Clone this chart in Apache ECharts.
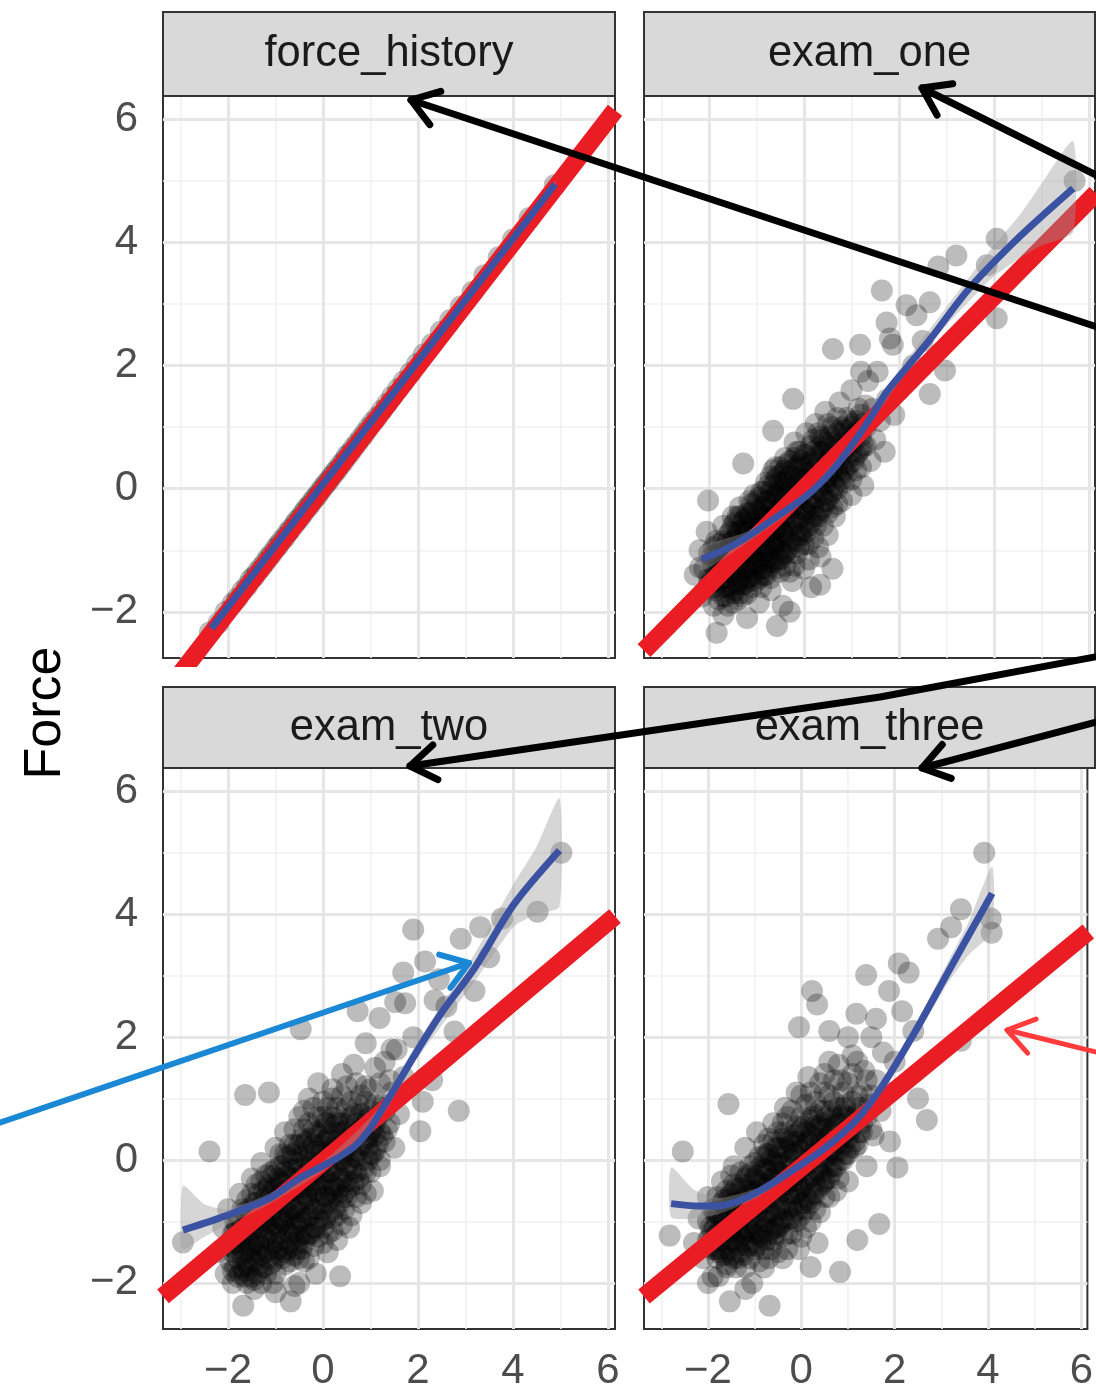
<!DOCTYPE html>
<html>
<head>
<meta charset="utf-8">
<script src="https://cdn.jsdelivr.net/npm/echarts@6/dist/echarts.min.js"></script>
<style>
html,body{margin:0;padding:0;background:#fff;}
#chart{width:1096px;height:1392px;}
</style>
</head>
<body>
<div id="chart"></div>
<script>
// ---------- DATA ----------
const panelNames = ['force_history', 'exam_one', 'exam_two', 'exam_three'];
const xTicks = [-2, 0, 2, 4, 6];
const yTicks = [-2, 0, 2, 4, 6];
const xMinor = [-3, -1, 1, 3, 5];
const yMinor = [-1, 1, 3, 5];

const forceHistoryPoints = [
[-2.38,-2.33],[-2.2,-2.18],[-2.05,-2.0],[-1.9,-1.86],[-1.8,-1.78],[-1.7,-1.66],[-1.6,-1.58],[-1.52,-1.47],[-1.45,-1.43],[-1.38,-1.35],
[-1.3,-1.28],[-1.22,-1.2],[-1.15,-1.12],[-1.08,-1.06],[-1.0,-0.97],[-0.94,-0.92],[-0.88,-0.85],[-0.8,-0.79],[-0.74,-0.71],[-0.68,-0.66],
[-0.6,-0.58],[-0.55,-0.52],[-0.48,-0.47],[-0.42,-0.4],[-0.36,-0.33],[-0.3,-0.29],[-0.24,-0.22],[-0.18,-0.16],[-0.12,-0.11],[-0.06,-0.04],
[0.0,0.02],[0.06,0.08],[0.12,0.13],[0.18,0.2],[0.24,0.26],[0.3,0.31],[0.37,0.39],[0.44,0.45],[0.5,0.53],[0.57,0.58],
[0.64,0.66],[0.72,0.74],[0.8,0.82],[0.88,0.9],[0.96,0.99],[1.05,1.08],[1.14,1.16],[1.24,1.27],[1.35,1.38],[1.46,1.5],
[1.58,1.62],[1.7,1.74],[1.84,1.88],[1.98,2.03],[2.12,2.18],[2.3,2.35],[2.48,2.55],[2.68,2.74],[2.9,2.96],[3.15,3.2],
[3.4,3.47],[3.7,3.76],[4.0,4.05],[4.35,4.4],[4.88,4.93]
];

const examOnePoints = [
[-2.3,-1.4],[-2.2,-1.0],[-2.15,-1.75],[-2.1,-1.3],[-2.05,-0.7],[-2.0,-1.55],[-1.95,-1.1],[-1.9,-1.9],[-1.85,-0.85],[-1.8,-1.4],
[-1.75,-1.15],[-1.7,-2.05],[-1.7,-0.6],[-1.65,-1.6],[-1.6,-1.0],[-1.55,-1.3],[-1.5,-0.45],[-1.5,-1.85],[-1.45,-0.8],[-1.4,-1.15],
[-1.4,-1.55],[-1.35,-0.3],[-1.3,-1.0],[-1.3,-1.75],[-1.25,-0.65],[-1.2,-1.3],[-1.2,-2.1],[-1.15,-0.4],[-1.1,-0.95],[-1.1,-1.5],
[-1.05,-0.1],[-1.0,-0.7],[-1.0,-1.2],[-0.95,-1.85],[-0.9,-0.45],[-0.9,-0.95],[-0.85,-1.4],[-0.8,0.1],[-0.8,-0.6],[-0.75,-1.1],
[-0.7,-1.65],[-0.7,-0.3],[-0.65,-0.85],[-0.6,0.35],[-0.6,-1.3],[-0.55,-0.5],[-0.5,-1.0],[-0.5,-0.05],[-0.45,-1.9],[-0.45,-0.7],
[-0.4,0.5],[-0.4,-1.25],[-0.35,-0.3],[-0.3,-0.85],[-0.3,0.2],[-0.25,-1.5],[-0.2,-0.5],[-0.2,0.75],[-0.15,-1.05],[-0.1,-0.1],
[-0.1,0.4],[-0.05,-0.7],[0.0,-1.3],[0.0,0.15],[0.05,-0.35],[0.05,0.9],[0.1,-0.9],[0.15,0.45],[0.15,-1.6],[0.2,-0.15],
[0.25,-0.6],[0.25,1.05],[0.3,0.25],[0.35,-1.1],[0.35,0.7],[0.4,-0.3],[0.45,0.05],[0.45,1.25],[0.5,-0.75],[0.55,0.5],
[0.6,-0.05],[0.6,1.0],[0.65,-0.45],[0.7,0.3],[0.75,1.4],[0.8,0.75],[0.8,-0.2],[0.85,0.1],[0.9,1.15],[0.95,0.5],
[1.0,-0.1],[1.0,1.6],[1.05,0.85],[1.1,0.3],[1.15,1.3],[1.2,0.65],[1.25,0.05],[1.3,1.0],[1.35,1.75],[1.4,0.45],
[1.45,1.3],[1.5,0.8],[1.55,1.9],[1.6,1.1],[1.7,0.6],[1.75,1.45],
[-2.19,-1.28],[-2.02,-0.19],[-1.84,-2.34],[-0.57,-2.23],[0.34,-1.56],[-1.28,0.41],[-0.65,0.94],[-0.23,1.46],[0.61,2.27],[1.18,2.34],
[1.64,3.22],[2.16,2.98],[2.65,3.03],[2.83,3.61],[3.21,3.79],[2.65,1.54],[2.97,1.92],[4.06,2.77],[4.06,4.06],[3.85,3.63],
[1.87,2.34],[1.74,2.7],[2.37,2.82],[1.81,2.44],[5.7,5.0],[2.0,1.6],[2.3,2.0],[1.9,1.2],[2.5,2.4],[1.2,1.9],
[-0.3,-2.0],[0.6,-1.3]
];
// dense core: each row is an x followed by the y values stacked at that x
const examOneCore = [
[-2.0,-1.45,-1.05],[-1.9,-1.6,-1.25,-0.95],[-1.8,-1.8,-1.5,-1.2,-0.9],[-1.7,-1.75,-1.45,-1.15,-0.85],
[-1.6,-1.9,-1.6,-1.35,-1.05,-0.75],[-1.5,-1.7,-1.4,-1.1,-0.85,-0.6],[-1.4,-1.8,-1.5,-1.25,-1.0,-0.7,-0.45],
[-1.3,-1.55,-1.35,-1.1,-0.85,-0.55],[-1.2,-1.7,-1.45,-1.15,-0.9,-0.65,-0.4],[-1.1,-1.6,-1.3,-1.05,-0.8,-0.55,-0.25],
[-1.0,-1.5,-1.25,-1.0,-0.75,-0.5,-0.2],[-0.9,-1.6,-1.3,-1.1,-0.8,-0.6,-0.3,-0.05],[-0.8,-1.4,-1.15,-0.95,-0.7,-0.45,-0.2],
[-0.7,-1.45,-1.2,-0.8,-0.55,-0.35,-0.05,0.2],[-0.6,-1.1,-0.85,-0.65,-0.4,-0.1,0.15],[-0.5,-1.35,-1.15,-0.85,-0.6,-0.4,-0.15,0.1,0.35],
[-0.4,-1.05,-0.75,-0.55,-0.15,0.1,0.3],[-0.3,-1.35,-1.05,-0.45,-0.2,0.05,0.45],[-0.2,-1.25,-0.7,-0.35,-0.05,0.2,0.5],
[-0.1,-0.95,-0.75,-0.3,0.15,0.6],[0.0,-0.9,-0.55,-0.35,0.0,0.35,0.55],[0.1,-1.15,-0.6,-0.2,0.1,0.25],
[0.2,-0.8,-0.45,-0.3,0.3,0.6,0.8],[0.3,-0.95,-0.45,0.0,0.45,0.9],[0.4,-0.6,-0.1,0.15,0.6,0.8],
[0.5,-0.4,-0.2,0.2,0.45,0.7,1.05],[0.6,-0.3,0.1,0.3,0.7],[0.7,-0.25,0.0,0.5,0.9,1.15],[0.8,0.15,0.4,0.55,1.0],
[0.9,0.25,0.7,0.85],[1.0,0.15,0.6,1.0],[1.1,0.55,0.9,1.1],[1.2,0.35,0.85,1.2],[1.3,0.7,1.35]
];
const examOneCoreB = [
[-1.95,-1.5,-1.2],[-1.85,-1.65,-1.35,-1.05],[-1.75,-1.6,-1.3,-1.0],[-1.65,-1.75,-1.45,-1.2,-0.9],
[-1.55,-1.55,-1.25,-0.95,-0.7],[-1.45,-1.65,-1.35,-1.1,-0.85,-0.55],[-1.35,-1.7,-1.45,-1.2,-0.95,-0.7,-0.45],
[-1.25,-1.55,-1.3,-1.0,-0.75,-0.5],[-1.15,-1.45,-1.2,-0.95,-0.7,-0.45,-0.2],[-1.05,-1.4,-1.1,-0.85,-0.6,-0.35],
[-0.95,-1.45,-1.2,-0.95,-0.65,-0.4,-0.15],[-0.85,-1.3,-1.05,-0.8,-0.55,-0.3,-0.05],[-0.75,-1.3,-1.0,-0.75,-0.5,-0.2,0.05],
[-0.65,-1.2,-0.95,-0.7,-0.45,-0.2,0.05,0.3],[-0.55,-1.15,-0.9,-0.65,-0.35,-0.1,0.2],[-0.45,-1.05,-0.8,-0.5,-0.25,0.0,0.25],
[-0.35,-1.0,-0.7,-0.4,-0.1,0.15,0.4],[-0.25,-0.9,-0.6,-0.3,0.0,0.3],[-0.15,-0.85,-0.55,-0.2,0.05,0.35,0.6],
[-0.05,-0.75,-0.45,-0.15,0.2,0.45],[0.05,-0.7,-0.4,-0.05,0.25,0.55],[0.15,-0.55,-0.25,0.05,0.4,0.7],
[0.25,-0.45,-0.15,0.15,0.5],[0.35,-0.35,-0.05,0.3,0.6,0.85],[0.45,-0.2,0.1,0.4,0.75],[0.55,-0.1,0.2,0.55,0.85],
[0.65,0.05,0.35,0.65,0.95],[0.75,0.2,0.45,0.8],[0.85,0.3,0.65,0.95],[0.95,0.4,0.75,1.1],[1.05,0.45,0.75,1.05],
[1.15,0.6,0.95],[1.25,0.7,1.05]
];

const examTwoPoints = [
[-2.2,-1.5],[-2.1,-1.1],[-2.05,-1.85],[-2.0,-0.8],[-1.95,-1.4],[-1.9,-2.0],[-1.85,-1.0],[-1.8,-1.6],[-1.75,-0.55],[-1.7,-1.25],
[-1.65,-1.9],[-1.6,-0.9],[-1.55,-1.5],[-1.5,-0.3],[-1.5,-1.15],[-1.45,-2.1],[-1.4,-0.7],[-1.35,-1.35],[-1.3,-1.75],[-1.3,-0.05],
[-1.25,-0.95],[-1.2,-1.5],[-1.15,-0.45],[-1.1,-1.15],[-1.05,-2.0],[-1.0,-0.7],[-1.0,0.2],[-0.95,-1.35],[-0.9,-0.35],[-0.85,-1.0],
[-0.8,-1.7],[-0.8,0.45],[-0.75,-0.55],[-0.7,-1.2],[-0.65,0.0],[-0.6,-0.8],[-0.6,-2.05],[-0.55,-1.45],[-0.5,-0.3],[-0.5,0.7],
[-0.45,-1.0],[-0.4,0.25],[-0.4,-1.65],[-0.35,-0.55],[-0.3,1.0],[-0.3,-1.2],[-0.25,-0.1],[-0.2,0.5],[-0.2,-0.8],[-0.15,-1.85],
[-0.1,-0.4],[-0.1,1.25],[-0.05,0.15],[0.0,-1.1],[0.0,0.7],[0.05,-0.6],[0.1,-1.5],[0.1,0.35],[0.15,-0.2],[0.2,1.0],
[0.2,-0.95],[0.25,0.1],[0.3,-1.3],[0.3,0.6],[0.35,-0.45],[0.4,1.4],[0.4,0.25],[0.45,-0.8],[0.5,-0.1],[0.5,0.85],
[0.55,-1.1],[0.6,0.4],[0.65,1.55],[0.65,-0.4],[0.7,0.05],[0.75,0.9],[0.8,-0.7],[0.85,0.5],[0.9,1.2],[0.9,-0.2],
[0.95,0.2],[1.0,0.8],[1.05,-0.5],[1.1,1.5],[1.1,0.4],[1.2,0.0],[1.25,0.9],[1.3,1.6],[1.35,0.5],[1.45,1.1],
[1.5,0.2],[1.55,1.8],[1.6,0.75],[1.7,1.35],
[-2.95,-1.34],[-2.39,0.14],[-1.68,-2.37],[-1.64,1.06],[-1.14,1.1],[-0.68,-2.3],[0.36,-1.89],[-0.47,2.13],[0.73,2.42],[1.52,2.57],
[1.69,3.05],[1.9,3.75],[2.15,3.23],[2.44,2.94],[2.9,3.6],[3.31,3.79],[3.77,3.93],[4.52,4.04],[5.02,5.0],[2.86,0.8],
[2.1,0.95],[2.05,0.47],[3.19,2.75],[2.77,2.09],[1.73,2.55],[1.19,2.31],[1.44,1.8],[-1.0,-2.15],[-0.5,-2.0],[2.3,1.3],
[1.9,2.0],[2.6,2.5],[0.9,1.9],[2.35,2.6],[3.5,3.3]
];
const examTwoCore = [
[-1.9,-1.8,-1.5,-1.2],[-1.8,-1.9,-1.35,-1.05],[-1.7,-1.75,-1.55,-1.1,-0.8],[-1.6,-2.0,-1.7,-1.3,-1.05,-0.65],
[-1.5,-1.9,-1.6,-1.4,-1.0,-0.55],[-1.4,-1.85,-1.5,-1.2,-0.95,-0.4],[-1.3,-2.0,-1.55,-1.0,-0.75,-0.35],
[-1.2,-1.85,-1.25,-1.05,-0.6,-0.25],[-1.1,-1.7,-1.45,-0.9,-0.6,-0.2],[-1.0,-1.85,-1.5,-1.2,-0.45,-0.15],
[-0.9,-1.55,-1.2,-0.95,-0.55,-0.1,0.1],[-0.8,-1.5,-1.05,-0.75,-0.5,-0.2,0.1],[-0.7,-1.65,-1.35,-0.9,-0.65,-0.3,0.25],
[-0.6,-1.55,-1.2,-0.95,-0.45,-0.3,0.25,0.5],[-0.5,-1.6,-1.25,-0.85,-0.5,-0.05,0.25],[-0.4,-1.35,-1.2,-0.65,-0.35,-0.1,0.5,0.8],
[-0.3,-1.6,-0.9,-0.7,-0.45,0.15,0.6],[-0.2,-1.4,-1.1,-0.25,0.0,0.25,0.85],[-0.1,-1.25,-0.95,-0.6,-0.2,0.4,0.7],
[0.0,-1.35,-0.8,-0.45,-0.25,0.1,0.5,0.95],[0.1,-1.2,-0.7,-0.1,0.15,0.6,0.85],[0.2,-1.15,-0.6,-0.4,0.2,0.7,1.15],
[0.3,-0.9,-0.55,-0.2,0.3,0.45,0.85],[0.4,-1.05,-0.6,-0.3,0.0,0.6,1.05],[0.5,-0.6,-0.35,0.1,0.5,1.2],
[0.6,-0.9,-0.15,0.15,0.7,0.95],[0.7,-0.6,-0.2,0.35,0.6,1.25],[0.8,-0.4,0.0,0.5,0.75,1.05],
[0.9,-0.55,0.35,0.6,0.95],[1.0,-0.2,0.1,0.45,1.15],[1.1,0.15,0.6,0.9],[1.2,-0.1,0.45,1.25],[1.3,0.3,0.8],[1.4,0.6,1.3]
];
const examTwoCoreB = [
[-1.95,-1.65,-1.35],[-1.85,-1.75,-1.45,-1.15],[-1.75,-1.85,-1.4,-1.2,-0.95],[-1.65,-1.8,-1.5,-1.2,-0.85],
[-1.55,-1.75,-1.45,-1.15,-0.8],[-1.45,-1.95,-1.65,-1.35,-1.05,-0.7],[-1.35,-1.7,-1.4,-1.1,-0.85,-0.55],
[-1.25,-1.75,-1.4,-1.15,-0.85,-0.5],[-1.15,-1.6,-1.3,-1.0,-0.75,-0.4],[-1.05,-1.65,-1.35,-1.05,-0.8,-0.5,-0.25],
[-0.95,-1.45,-1.1,-0.85,-0.6,-0.3],[-0.85,-1.6,-1.3,-1.0,-0.7,-0.4,-0.1],[-0.75,-1.45,-1.15,-0.85,-0.55,-0.25,0.05],
[-0.65,-1.4,-1.1,-0.8,-0.5,-0.15,0.1],[-0.55,-1.35,-1.05,-0.75,-0.45,-0.15,0.15],[-0.45,-1.45,-1.1,-0.85,-0.55,-0.25,0.05,0.35],
[-0.35,-1.25,-0.95,-0.6,-0.3,0.0,0.3],[-0.25,-1.2,-0.9,-0.55,-0.35,-0.05,0.35],[-0.15,-1.1,-0.8,-0.5,-0.15,0.15,0.45],
[-0.05,-1.0,-0.7,-0.35,-0.05,0.25],[0.05,-0.95,-0.6,-0.3,0.0,0.3,0.6],[0.15,-0.85,-0.5,-0.2,0.1,0.4],
[0.25,-0.8,-0.45,-0.1,0.2,0.55],[0.35,-0.7,-0.35,0.0,0.35,0.7],[0.45,-0.55,-0.2,0.15,0.45],[0.55,-0.45,-0.05,0.25,0.6],
[0.65,-0.35,0.05,0.4,0.75],[0.75,-0.3,0.15,0.45],[0.85,-0.15,0.25,0.65],[0.95,0.0,0.35,0.7],[1.05,0.1,0.5],
[1.15,0.25,0.7],[1.25,0.4,0.85]
];

const examThreePoints = [
[-2.3,-1.35],[-2.2,-0.95],[-2.1,-1.6],[-2.0,-0.6],[-1.95,-1.25],[-1.9,-1.9],[-1.8,-0.85],[-1.75,-1.45],[-1.7,-0.35],[-1.65,-1.15],
[-1.6,-1.75],[-1.55,-0.65],[-1.5,-1.3],[-1.45,-0.1],[-1.4,-0.95],[-1.35,-1.6],[-1.3,-0.45],[-1.25,-1.15],[-1.2,0.2],[-1.15,-0.75],
[-1.1,-1.4],[-1.05,-2.0],[-1.0,-0.3],[-1.0,-1.0],[-0.95,0.45],[-0.9,-0.6],[-0.85,-1.3],[-0.8,0.05],[-0.8,-1.75],[-0.75,-0.9],
[-0.7,-0.2],[-0.65,-1.45],[-0.6,0.6],[-0.6,-0.55],[-0.55,-1.1],[-0.5,0.2],[-0.45,-0.8],[-0.4,-1.6],[-0.4,-0.25],[-0.35,0.85],
[-0.3,-1.2],[-0.3,0.35],[-0.25,-0.55],[-0.2,-0.95],[-0.15,0.1],[-0.1,1.1],[-0.1,-0.35],[-0.05,-1.45],[0.0,0.5],[0.0,-0.7],
[0.05,-0.1],[0.1,-1.1],[0.15,0.3],[0.15,1.35],[0.2,-0.45],[0.25,0.75],[0.3,-0.8],[0.3,0.1],[0.35,-1.35],[0.4,0.55],
[0.45,-0.25],[0.5,1.1],[0.5,-0.6],[0.55,0.25],[0.6,1.6],[0.65,-0.1],[0.7,0.7],[0.75,-0.5],[0.8,0.35],[0.85,1.3],
[0.9,0.0],[0.95,0.9],[1.0,-0.35],[1.05,0.5],[1.1,1.7],[1.15,0.2],[1.2,1.05],[1.3,0.6],[1.35,1.45],[1.4,-0.1],
[1.45,0.9],[1.5,2.0],[1.55,0.4],[1.6,1.3],[1.7,0.8],[1.75,1.75],[1.85,1.1],
[3.92,5.0],[3.42,4.08],[3.21,3.79],[2.93,3.6],[4.06,3.93],[4.08,3.7],[2.09,3.2],[2.3,3.05],[1.39,3.01],[0.23,2.75],
[0.34,2.53],[1.88,2.75],[1.18,2.38],[2.16,2.42],[-0.05,2.16],[2.69,0.65],[-1.56,0.91],[-2.54,0.14],[-2.82,-1.23],[-1.77,-1.89],
[-1.53,-2.3],[-0.68,-2.37],[0.2,-1.74],[0.83,-1.82],[1.67,-1.04],[2.06,-0.12],[3.42,1.94],[1.6,2.3],[1.0,2.0],[2.0,1.6],
[2.4,2.1],[0.6,2.1],[-2.0,-2.0],[-1.2,-2.1],[1.2,-1.3],[2.5,1.0],[1.9,0.3]
];
const examThreeCore = [
[-2.0,-1.3,-1.0],[-1.9,-1.45,-1.15,-0.8],[-1.8,-1.6,-1.2,-0.95,-0.6],[-1.7,-1.55,-1.3,-1.0,-0.7],
[-1.6,-1.7,-1.35,-1.1,-0.8,-0.5],[-1.5,-1.55,-1.15,-0.9,-0.55,-0.25],[-1.4,-1.75,-1.35,-1.1,-0.8,-0.45],
[-1.3,-1.5,-1.25,-0.95,-0.7,-0.2],[-1.2,-1.75,-1.3,-0.85,-0.6,-0.3],[-1.1,-1.6,-1.15,-0.95,-0.4,-0.1],
[-1.0,-1.45,-1.2,-0.75,-0.5,-0.05],[-0.9,-1.65,-1.2,-0.75,-0.35,0.05],[-0.8,-1.45,-1.1,-0.6,-0.45,-0.15,0.25],
[-0.7,-1.6,-1.2,-0.85,-0.4,0.1,0.35],[-0.6,-1.3,-0.95,-0.3,-0.05,0.3],[-0.5,-1.5,-1.1,-0.65,-0.2,0.05,0.45],
[-0.4,-1.25,-0.95,-0.5,-0.05,0.35,0.6],[-0.3,-1.45,-0.8,-0.4,-0.25,0.15,0.7],[-0.2,-1.2,-0.75,-0.35,-0.1,0.25,0.8],
[-0.1,-1.0,-0.55,-0.2,0.3,0.55],[0.0,-1.25,-0.9,-0.45,-0.2,0.15,0.7,1.05],[0.1,-0.8,-0.6,-0.25,0.0,0.45,0.9],
[0.2,-1.0,-0.7,-0.05,0.4,0.65,1.1],[0.3,-0.55,-0.35,0.2,0.55,0.95],[0.4,-0.85,-0.2,0.05,0.35,0.8,1.25],
[0.5,-0.35,-0.05,0.5,0.8,1.4],[0.6,-0.6,-0.3,0.15,0.5,1.05],[0.7,-0.1,0.1,0.55,0.95,1.3],
[0.8,-0.3,0.15,0.6,0.85,1.55],[0.9,0.25,0.75,1.1],[1.0,0.1,0.35,0.7,1.25],[1.1,0.5,0.95,1.4],
[1.2,0.25,0.75,1.6],[1.3,0.45,1.1],[1.4,0.7,1.3],[1.5,0.5,1.05]
];
const examThreeCoreB = [
[-1.95,-1.4,-1.1],[-1.85,-1.45,-1.1,-0.85],[-1.75,-1.5,-1.15,-0.9],[-1.65,-1.55,-1.25,-0.95,-0.65],
[-1.55,-1.45,-1.2,-0.9,-0.6],[-1.45,-1.6,-1.3,-1.0,-0.7,-0.4],[-1.35,-1.4,-1.15,-0.85,-0.55],
[-1.25,-1.55,-1.2,-0.95,-0.65,-0.4],[-1.15,-1.4,-1.1,-0.8,-0.5,-0.25],[-1.05,-1.35,-1.05,-0.8,-0.55,-0.2],
[-0.95,-1.4,-1.1,-0.85,-0.55,-0.25],[-0.85,-1.25,-0.95,-0.7,-0.4,-0.1],[-0.75,-1.3,-1.0,-0.7,-0.45,-0.15,0.1],
[-0.65,-1.15,-0.85,-0.6,-0.3,0.0],[-0.55,-1.2,-0.9,-0.6,-0.35,-0.05,0.2],[-0.45,-1.05,-0.75,-0.45,-0.2,0.1],
[-0.35,-1.0,-0.7,-0.4,-0.1,0.2,0.45],[-0.25,-0.95,-0.6,-0.3,0.0,0.3],[-0.15,-0.85,-0.55,-0.25,0.1,0.4],
[-0.05,-0.8,-0.5,-0.15,0.15,0.45],[0.05,-0.7,-0.4,-0.1,0.25,0.55],[0.15,-0.65,-0.3,0.0,0.3],
[0.25,-0.55,-0.25,0.1,0.4,0.7],[0.35,-0.45,-0.15,0.15,0.5],[0.45,-0.4,-0.05,0.25,0.6],[0.55,-0.3,0.05,0.35,0.7],
[0.65,-0.2,0.15,0.45,0.8],[0.75,-0.1,0.25,0.6],[0.85,0.0,0.35,0.7],[0.95,0.1,0.45,0.85],[1.05,0.2,0.55],
[1.15,0.3,0.7],[1.25,0.45,0.85]
];

// straight reference fit (red), endpoints at the panel edges
const forceHistoryFit = [[-3.37,-3.37],[6.15,6.15]];
const examOneFit = [[-3.37,-2.63],[6.15,4.8]];
const examTwoFit = [[-3.37,-2.22],[6.15,3.97]];
const examThreeFit = [[-3.37,-2.22],[6.15,3.72]];

// loess curves (blue)
const forceHistoryLoess = [[-2.35,-2.27],[4.89,4.95]];
const examOneLoess = [[-2.15,-1.14],[-1.65,-0.98],[-1.21,-0.79],[-0.6,-0.47],[0.06,-0.11],[0.6,0.3],[1.03,0.73],[1.4,1.15],[1.74,1.57],[2.2,2.0],[2.65,2.42],[3.49,3.26],[4.55,4.1],[5.67,4.88]];
const examTwoLoess = [[-2.95,-1.14],[-2.2,-0.95],[-1.14,-0.63],[-0.5,-0.3],[0.04,-0.08],[0.4,0.08],[0.69,0.24],[1.0,0.52],[1.19,0.76],[1.5,1.15],[1.94,1.72],[2.5,2.4],[3.19,3.12],[4.02,4.16],[4.98,5.04]];
const examThreeLoess = [[-2.79,-0.71],[-2.2,-0.75],[-1.77,-0.75],[-1.3,-0.65],[-0.93,-0.52],[-0.23,-0.19],[0.48,0.18],[1.18,0.65],[1.74,1.21],[2.44,2.09],[3.14,3.05],[4.09,4.34]];

// loess confidence bands
const forceHistoryBandX = [-2.35, 4.89];
const forceHistoryBandLo = [-2.3, 4.9];
const forceHistoryBandHi = [-2.24, 5.0];
const examOneBandX = [-2.15,-1.21,0.06,1.03,2.0,3.0,4.0,4.55,5.0,5.67];
const examOneBandLo = [-1.33,-0.88,-0.17,0.66,1.72,2.65,3.45,3.75,3.95,4.17];
const examOneBandHi = [-0.95,-0.7,-0.05,0.8,1.92,2.95,3.95,4.45,4.95,5.65];
const examTwoBandX = [-2.95,-2.5,-2.0,-1.14,0.04,1.19,1.94,3.19,4.02,4.5,4.98];
const examTwoBandLo = [-1.45,-1.25,-1.05,-0.72,-0.16,0.66,1.6,2.9,3.8,4.0,4.12];
const examTwoBandHi = [-0.42,-0.72,-0.8,-0.55,0.0,0.86,1.85,3.35,4.5,5.1,5.89];
const examThreeBandX = [-2.79,-2.3,-1.77,-0.93,-0.23,0.48,1.18,1.74,2.44,3.14,3.6,4.09];
const examThreeBandLo = [-0.93,-0.95,-0.88,-0.6,-0.25,0.12,0.58,1.12,1.98,2.88,3.35,3.72];
const examThreeBandHi = [-0.12,-0.48,-0.62,-0.45,-0.13,0.24,0.72,1.3,2.2,3.22,3.9,4.78];

// ---------- BUILD ----------
function expandRows(rows) {
  const out = [];
  rows.forEach(r => { for (let k = 1; k < r.length; k++) out.push([r[0], r[k]]); });
  return out;
}
const panels = [
  {pts: forceHistoryPoints, fit: forceHistoryFit, loess: forceHistoryLoess, bx: forceHistoryBandX, lo: forceHistoryBandLo, hi: forceHistoryBandHi},
  {pts: examOnePoints.concat(expandRows(examOneCore), expandRows(examOneCoreB)), fit: examOneFit, loess: examOneLoess, bx: examOneBandX, lo: examOneBandLo, hi: examOneBandHi},
  {pts: examTwoPoints.concat(expandRows(examTwoCore), expandRows(examTwoCoreB)), fit: examTwoFit, loess: examTwoLoess, bx: examTwoBandX, lo: examTwoBandLo, hi: examTwoBandHi},
  {pts: examThreePoints.concat(expandRows(examThreeCore), expandRows(examThreeCoreB)), fit: examThreeFit, loess: examThreeLoess, bx: examThreeBandX, lo: examThreeBandLo, hi: examThreeBandHi}
];

const FONT = '"Liberation Sans", Arial, Helvetica, sans-serif';
const gridBoxes = [
  {left: 163, top: 96, width: 452, height: 562},
  {left: 644, top: 96, width: 451, height: 562},
  {left: 163, top: 768, width: 452, height: 564},
  {left: 644, top: 768, width: 451, height: 564}
];
const stripBoxes = [
  {x: 163, y: 12, w: 452, h: 84},
  {x: 644, y: 12, w: 451, h: 84},
  {x: 163, y: 687, w: 452, h: 81},
  {x: 644, y: 687, w: 451, h: 81}
];

const grids = gridBoxes.map(g => Object.assign({}, g, {show: true, borderColor: '#333333', borderWidth: 2, backgroundColor: '#ffffff', containLabel: false}));

const xAxes = gridBoxes.map((g, i) => {
  const bottom = i >= 2;
  return {
    type: 'value', gridIndex: i, min: -3.37, max: i % 2 ? 6.13 : 6.15,
    axisLine: {show: false},
    axisTick: {show: bottom, customValues: xTicks, length: 12, lineStyle: {color: '#333333', width: 3}},
    axisLabel: {show: bottom, customValues: xTicks, margin: 21, fontSize: 42, color: '#4d4d4d', fontFamily: FONT,
      formatter: v => (v < 0 ? '\u2212' + Math.abs(v) : String(v))},
    splitLine: {show: false}
  };
});
const yAxes = gridBoxes.map((g, i) => {
  const left = i % 2 === 0;
  return {
    type: 'value', gridIndex: i, min: -2.75, max: 6.38,
    axisLine: {show: false},
    axisTick: {show: left, customValues: yTicks, length: 12, lineStyle: {color: '#333333', width: 3}},
    axisLabel: {show: left, customValues: yTicks, margin: 25, fontSize: 42, color: '#4d4d4d', fontFamily: FONT,
      formatter: v => (v < 0 ? '\u2212' + Math.abs(v) : String(v))},
    splitLine: {show: false}
  };
});

const series = [];
panels.forEach((p, i) => {
  const gl = [];
  xMinor.forEach(v => gl.push({xAxis: v, lineStyle: {color: '#f1f1f1', width: 1.6, type: 'solid'}}));
  yMinor.forEach(v => gl.push({yAxis: v, lineStyle: {color: '#f1f1f1', width: 1.6, type: 'solid'}}));
  xTicks.forEach(v => gl.push({xAxis: v, lineStyle: {color: '#e6e6e6', width: 3, type: 'solid'}}));
  yTicks.forEach(v => gl.push({yAxis: v, lineStyle: {color: '#e6e6e6', width: 3, type: 'solid'}}));
  series.push({
    type: 'line', xAxisIndex: i, yAxisIndex: i, z: 1, silent: true,
    data: [[0, 0]], symbol: 'none', lineStyle: {opacity: 0},
    markLine: {silent: true, z: 1, symbol: ['none', 'none'], label: {show: false}, animation: false, data: gl}
  });
  series.push({
    type: 'scatter', xAxisIndex: i, yAxisIndex: i, z: 2, silent: true,
    symbolSize: 22, data: p.pts, large: false,
    itemStyle: {color: 'rgba(0,0,0,0.33)'}
  });
  series.push({
    type: 'line', xAxisIndex: i, yAxisIndex: i, z: 3, silent: true,
    data: p.fit, symbol: 'none', lineStyle: {color: '#ea1d25', width: 18}
  });
  series.push({
    type: 'custom', xAxisIndex: i, yAxisIndex: i, z: 4, silent: true,
    data: [[p.bx[0], p.lo[0]]],
    renderItem: (params, api) => {
      const pts = [];
      for (let k = 0; k < p.bx.length; k++) pts.push(api.coord([p.bx[k], p.hi[k]]));
      for (let k = p.bx.length - 1; k >= 0; k--) pts.push(api.coord([p.bx[k], p.lo[k]]));
      return {type: 'polygon', shape: {points: pts, smooth: 0.2}, style: {fill: 'rgba(153,153,153,0.4)', stroke: null}};
    }
  });
  series.push({
    type: 'line', xAxisIndex: i, yAxisIndex: i, z: 5, silent: true,
    data: p.loess, symbol: 'none', smooth: 0.3,
    lineStyle: {color: '#3b52a3', width: 7}
  });
});

// ---------- decorations: strips, axis title, annotation arrows ----------
const graphics = [];
stripBoxes.forEach((s, i) => {
  graphics.push({type: 'rect', shape: {x: s.x, y: s.y, width: s.w, height: s.h},
    style: {fill: '#d9d9d9', stroke: '#333333', lineWidth: 2}, z: 50, silent: true});
  graphics.push({type: 'text', x: s.x + s.w / 2, y: s.y + s.h / 2, z: 51, silent: true,
    style: {text: panelNames[i], fill: '#1a1a1a', font: '43.5px ' + FONT, textAlign: 'center', textVerticalAlign: 'middle'}});
});
graphics.push({type: 'text', x: 46, y: 713, rotation: Math.PI / 2, z: 51, silent: true,
  style: {text: 'Force', fill: '#000000', font: '52px ' + FONT, textAlign: 'center', textVerticalAlign: 'middle'}});

function arrow(points, color, width) {
  const tip = points[points.length - 1];
  const prev = points[points.length - 2];
  const a = Math.atan2(prev[1] - tip[1], prev[0] - tip[0]);
  const L = 31, h = 0.6;
  const armA = [tip[0] + L * Math.cos(a + h), tip[1] + L * Math.sin(a + h)];
  const armB = [tip[0] + L * Math.cos(a - h), tip[1] + L * Math.sin(a - h)];
  const st = {stroke: color, lineWidth: width, fill: null, lineCap: 'round', lineJoin: 'round'};
  graphics.push({type: 'polyline', shape: {points: points}, style: st, z: 100, silent: true});
  graphics.push({type: 'polyline', shape: {points: [armA, tip, armB]}, style: st, z: 100, silent: true});
}
arrow([[1100, 328], [411, 100]], '#000000', 7);
arrow([[1100, 177], [922, 88]], '#000000', 7);
arrow([[1100, 656], [880, 697], [410, 766]], '#000000', 7);
arrow([[1100, 721], [922, 768]], '#000000', 7);
arrow([[-4, 1124], [469, 963]], '#1a88d4', 6);
arrow([[1100, 1053], [1007, 1030]], '#ff3b3b', 5);

const chart = echarts.init(document.getElementById('chart'), null, {renderer: 'canvas'});
chart.setOption({
  animation: false,
  backgroundColor: '#ffffff',
  grid: grids,
  xAxis: xAxes,
  yAxis: yAxes,
  series: series,
  graphic: {elements: graphics}
});
</script>
</body>
</html>
